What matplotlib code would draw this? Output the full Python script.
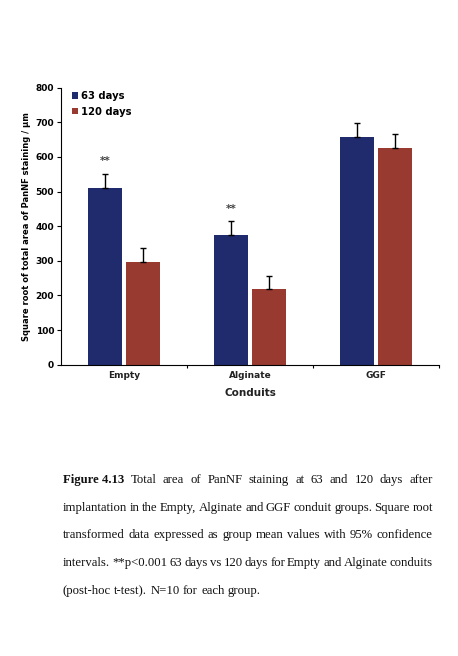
import numpy as np
import matplotlib
matplotlib.use("Agg")
import matplotlib.pyplot as plt

# data
conduits = ["Empty", "Alginate", "GGF"]
series = ["63 days", "120 days"]
mean_63 = [511, 376, 659]
mean_120 = [298, 219, 625]
ci_63 = [40, 38, 39]
ci_120 = [38, 38, 40]
star_labels = ["**", "**", ""]

caption_lines = [
    "Total area of PanNF staining at 63 and 120 days after",
    "implantation in the Empty, Alginate and GGF conduit groups. Square root",
    "transformed data expressed as group mean values with 95% confidence",
    "intervals. **p<0.001 63 days vs 120 days for Empty and Alginate conduits",
    "(post-hoc t-test). N=10 for each group.",
]

W, H = 458, 656
fig = plt.figure(figsize=(W / 100, H / 100), dpi=100)
ax = fig.add_axes([61 / W, 1 - 364.7 / H, 378 / W, 277 / H])

c63 = "#1f2b6c"
c120 = "#983a30"
x = np.arange(len(conduits))
bw = 0.27
off = 0.15

ax.bar(x - off, mean_63, bw, color=c63, label=series[0],
       yerr=[np.zeros(3), ci_63], capsize=2.5,
       error_kw=dict(elinewidth=1, capthick=1, ecolor="black"))
ax.bar(x + off, mean_120, bw, color=c120, label=series[1],
       yerr=[np.zeros(3), ci_120], capsize=2.5,
       error_kw=dict(elinewidth=1, capthick=1, ecolor="black"))

for i, s in enumerate(star_labels):
    if s:
        ax.text(x[i] - off, mean_63[i] + ci_63[i] + 22, s, ha="center",
                va="bottom", fontsize=7.5, fontweight="bold", color="#444444")

ax.set_xlim(-0.5, 2.5)
ax.set_ylim(0, 800)
ax.set_yticks(range(0, 801, 100))
ax.set_xticks([0.5, 1.5, 2.5])
ax.set_xticklabels([])
ax.tick_params(axis="x", length=2.5, width=0.8, direction="out")
ax.tick_params(axis="y", length=3, width=0.8, direction="out", labelsize=6.5, pad=2)
for lab in ax.get_yticklabels():
    lab.set_fontweight("bold")
for i, c in enumerate(conduits):
    ax.text(x[i], -30, c, ha="center", va="center", fontsize=6.5,
            fontweight="bold", color="#222222")
ax.text(1, -82, "Conduits", ha="center", va="center", fontsize=7.5,
        fontweight="bold", color="#222222")
ax.set_ylabel("Square root of total area of PanNF staining / \u03bcm",
              fontsize=6.0, fontweight="bold")
ax.yaxis.set_label_coords(-0.079, 0.5)
for sp in ["top", "right"]:
    ax.spines[sp].set_visible(False)
ax.spines["left"].set_linewidth(0.8)
ax.spines["bottom"].set_linewidth(0.8)

leg = ax.legend(loc="upper left", bbox_to_anchor=(0.005, 1.02), frameon=False,
                handlelength=0.6, handleheight=0.6, handletextpad=0.3,
                labelspacing=0.55, prop=dict(size=7.2, weight="bold"))

# caption, justified like the printed page
serif = "Liberation Serif"
fsz = 9.2
left, right = 63, 433
ys = [480, 508, 535, 563, 591]
renderer = fig.canvas.get_renderer()


def put_line(words, y, justify, bold_first=False):
    objs = []
    for k, w in enumerate(words):
        weight = "bold" if (bold_first and k == 0) else "normal"
        t = fig.text(0, 1 - y / H, w, fontsize=fsz, family=serif,
                     weight=weight, va="center", ha="left", color="#111111")
        objs.append(t)
    widths = [t.get_window_extent(renderer).width for t in objs]
    space = fsz * 100 / 72 * 0.25
    if justify and len(objs) > 1:
        space = (right - left - sum(widths)) / (len(objs) - 1)
    pos = left
    for t, w in zip(objs, widths):
        t.set_x(pos / W)
        pos += w + space


put_line(["Figure 4.13"] + caption_lines[0].split(), ys[0], True, bold_first=True)
for line, y in zip(caption_lines[1:-1], ys[1:-1]):
    put_line(line.split(), y, True)
put_line(caption_lines[-1].split(), ys[-1], False)

fig.savefig("out.png", dpi=100)
